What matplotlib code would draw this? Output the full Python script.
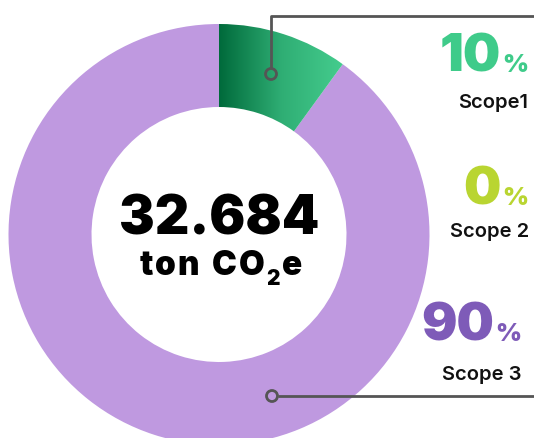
import matplotlib
matplotlib.use("Agg")
import matplotlib.pyplot as plt
import numpy as np
from matplotlib.patches import Wedge, Circle
from matplotlib.colors import LinearSegmentedColormap

# ---- data ----
categories = ["Scope1", "Scope 2", "Scope 3"]
shares = [10, 0, 90]
pct_labels = ["10", "0", "90"]
total_value = "32.684"
unit_main = "ton CO"
unit_sub = "2"
unit_end = "e"

W, H = 534, 439
fig = plt.figure(figsize=(W / 100, H / 100), dpi=100)
ax = fig.add_axes([0, 0, 1, 1])
ax.set_xlim(0, W)
ax.set_ylim(H, 0)
ax.set_aspect("equal")
ax.axis("off")

FONT = "Inter"
cx, cy = 219, 235.5
r_out, r_in = 210.5, 127.5
width = r_out - r_in

seg_colors = ["green", "#b9d531", "#bf99e0"]
start = 90.0
wedges = []
for share, col in zip(shares, seg_colors):
    sweep = 360.0 * share / sum(shares)
    if sweep <= 0:
        wedges.append(None)
        continue
    t1 = -start
    t2 = -start + sweep
    w = Wedge((cx, cy), r_out, t1, t2, width=width,
              facecolor=(col if col != "green" else "none"), edgecolor="none")
    ax.add_patch(w)
    wedges.append(w)
    start -= sweep

# gradient for first (green) wedge
gw = wedges[0]
cmap = LinearSegmentedColormap.from_list("g", ["#006a3b", "#2fae74", "#45cd8e"])
grad = np.linspace(0, 1, 256).reshape(1, -1)
ang = np.deg2rad(90 - 360.0 * shares[0] / sum(shares))
x_end = cx + r_out * np.cos(ang)
im = ax.imshow(grad, cmap=cmap, extent=[cx, x_end + 1, cy - r_out - 2, cy - r_in * np.sin(ang) + 3],
               aspect="auto", zorder=1, interpolation="bilinear")
im.set_clip_path(gw)
ax.set_xlim(0, W)
ax.set_ylim(H, 0)

# connector lines
lc = "#555555"
lw = 2.0
mx1, my1 = 271, 75
ax.plot([mx1, mx1, W + 5], [my1 - 6, 17, 17], color=lc, lw=lw, solid_capstyle="butt", zorder=3)
ax.add_patch(Circle((mx1, my1), 5.5, facecolor="none", edgecolor=lc, lw=lw, zorder=4))
mx3, my3 = 272, 397
ax.plot([mx3 + 6, W + 5], [my3, my3], color=lc, lw=lw, solid_capstyle="butt", zorder=3)
ax.add_patch(Circle((mx3, my3), 5.5, facecolor="none", edgecolor=lc, lw=lw, zorder=4))

fig.canvas.draw()
rend = fig.canvas.get_renderer()
inv = ax.transData.inverted()

def text_width(t):
    bb = t.get_window_extent(renderer=rend)
    (x0, _), (x1, _) = inv.transform([[bb.x0, bb.y0], [bb.x1, bb.y1]])
    return abs(x1 - x0)

# right-side labels
pct_colors = ["#3fcb8a", "#b9d531", "#7e5bb8"]
pct_y = [72, 205, 341]
name_y = [108, 237, 380]
pct_right = [528, 528, 521]
name_right = [528, 529, 521]
for i in range(3):
    pt = ax.text(pct_right[i], pct_y[i], "%", fontsize=18, fontfamily=FONT, fontweight=900,
                 color=pct_colors[i], ha="right", va="baseline")
    pw = text_width(pt)
    ax.text(pct_right[i] - pw - 1, pct_y[i], pct_labels[i], fontsize=38, fontfamily=FONT,
            fontweight=900, color=pct_colors[i], ha="right", va="baseline")
    ax.text(name_right[i], name_y[i], categories[i], fontsize=14.5, fontfamily=FONT,
            fontweight=600, color="#111111", ha="right", va="baseline")

# center total
ax.text(cx, 235, total_value, fontsize=38.5, fontfamily=FONT, fontweight=900,
        color="black", ha="center", va="baseline")

# unit line, laid out character by character with a little tracking
pieces = [(c, 24, 0) for c in unit_main] + [(unit_sub, 15, 10)] + [(c, 24, 0) for c in unit_end]
track = 1.8
objs = []
for s, fs, dy in pieces:
    t = ax.text(0, 0, s, fontsize=fs, fontfamily=FONT, fontweight=900,
                color="black", ha="left", va="baseline")
    w_ = text_width(t) if s != " " else fs * 100 / 72 * 0.28
    objs.append((t, w_, dy))
total = sum(o[1] for o in objs) + track * (len(objs) - 1)
x = cx - total / 2 + 2
base = 275
for t, w_, dy in objs:
    t.set_position((x, base + dy))
    x += w_ + track

fig.savefig("out.png", dpi=100, facecolor="white")
